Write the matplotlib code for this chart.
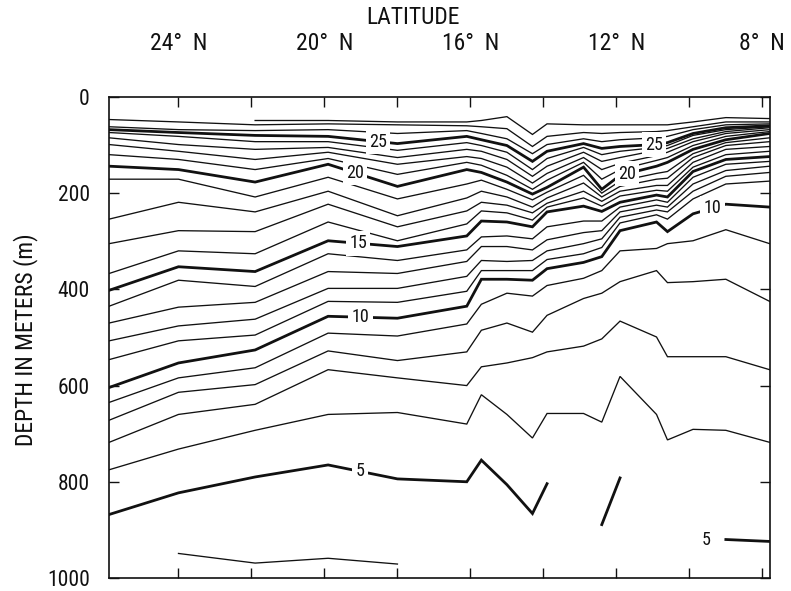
import numpy as np
import matplotlib
matplotlib.use('Agg')
import matplotlib.pyplot as plt
from matplotlib import font_manager

nan = np.nan

# station latitudes (deg N)
stations = [25.9, 24.0, 21.9, 19.9, 18.0, 16.1, 15.7, 15.0, 14.3, 13.9,
            12.9, 12.4, 11.9, 10.9, 10.6, 9.9, 9.0, 7.8]

# isotherm depths (m) at each station
t28 = [nan, nan, 49, 49, 52, 52, 49, 41, 78, 56, 58, 58, 58, 58, 58, 52, 43, 45]
t27 = [47, 52, 58, 56, 58, 60, 62, 66, 103, 82, 74, 76, 74, 72, 70, 62, 52, 52]
t26 = [62, 68, 70, 68, 76, 70, 76, 87, 118, 99, 87, 93, 89, 85, 82, 68, 58, 56]
t25 = [68, 74, 80, 82, 97, 82, 89, 101, 134, 113, 97, 107, 103, 99, 95, 76, 64, 60]
t24 = [74, 82, 93, 93, 111, 95, 101, 115, 151, 128, 105, 120, 113, 105, 101, 80, 68, 62]
t23 = [85, 99, 109, 105, 126, 109, 113, 130, 165, 144, 115, 134, 126, 111, 107, 87, 72, 64]
t22 = [99, 113, 130, 115, 140, 124, 128, 146, 179, 159, 126, 151, 138, 122, 115, 93, 76, 68]
t21 = [120, 130, 151, 128, 161, 136, 142, 163, 192, 173, 136, 171, 151, 132, 126, 101, 82, 72]
t20 = [144, 151, 177, 140, 186, 151, 157, 177, 202, 188, 146, 192, 163, 144, 136, 109, 89, 76]
t19 = [171, 171, 208, 167, 212, 181, 173, 192, 214, 198, 163, 200, 175, 159, 155, 118, 95, 85]
t18 = [254, 219, 239, 196, 247, 210, 196, 208, 229, 210, 179, 208, 186, 171, 169, 126, 101, 93]
t17 = [305, 278, 280, 223, 270, 237, 219, 225, 241, 221, 196, 217, 196, 184, 184, 136, 109, 103]
t16 = [367, 320, 326, 260, 299, 264, 237, 241, 256, 229, 210, 227, 206, 194, 196, 146, 120, 113]
t15 = [402, 353, 363, 299, 311, 289, 258, 260, 270, 239, 227, 238, 219, 204, 208, 155, 130, 124]
t14 = [435, 381, 394, 326, 340, 318, 291, 289, 295, 270, 258, 258, 229, 214, 219, 167, 140, 134]
t13 = [470, 437, 427, 363, 367, 342, 311, 311, 318, 297, 282, 278, 239, 225, 229, 181, 153, 144]
t12 = [507, 476, 462, 398, 398, 373, 340, 342, 340, 320, 305, 295, 250, 235, 239, 196, 165, 157]
t11 = [546, 507, 495, 425, 427, 404, 361, 361, 361, 338, 326, 313, 262, 245, 254, 212, 181, 175]
t10 = [604, 553, 526, 456, 460, 435, 379, 379, 381, 357, 344, 332, 278, 260, 280, 243, 223, 229]
t9 = [635, 584, 563, 491, 497, 472, 431, 408, 414, 392, 377, 361, 320, 315, 305, 299, 276, 305]
t8 = [672, 614, 598, 528, 548, 530, 485, 470, 489, 454, 419, 408, 384, 361, 386, 384, 379, 425]
t7 = [718, 660, 639, 567, 584, 600, 561, 553, 542, 530, 518, 503, 466, 499, 540, 540, 540, 567]
t6 = [775, 732, 693, 660, 656, 680, 619, 660, 709, 658, 658, 676, 581, 660, 713, 691, 693, 718]
t5 = [868, 823, 790, 765, 794, 800, 755, 806, 866, 804, nan, 889, 792, nan, nan, nan, 920, 924]
t4 = [nan, 949, 969, 959, 971, nan, nan, nan, nan, nan, nan, nan, nan, nan, nan, nan, nan, nan]

isotherms = {28: t28, 27: t27, 26: t26, 25: t25, 24: t24, 23: t23, 22: t22,
             21: t21, 20: t20, 19: t19, 18: t18, 17: t17, 16: t16, 15: t15,
             14: t14, 13: t13, 12: t12, 11: t11, 10: t10, 9: t9, 8: t8,
             7: t7, 6: t6, 5: t5, 4: t4}
bold_temps = [5, 10, 15, 20, 25]

# inline contour labels: (isotherm, latitude)
label_temps = [25, 25, 20, 20, 15, 10, 10, 5]
label_lats = [18.53, 10.97, 19.16, 11.71, 19.08, 19.02, 9.37, 19.02]

xticks = [24, 22, 20, 18, 16, 14, 12, 10, 8]
xtick_labels = ['24°  N', '', '20°  N', '', '16°  N', '', '12°  N', '', '8°  N']
yticks = [0, 200, 400, 600, 800, 1000]
ytick_labels = ['0', '200', '400', '600', '800', '1000']

avail = {f.name for f in font_manager.fontManager.ttflist}
FONT = 'DejaVu Sans'
for cand in ['Liberation Sans Narrow', 'Roboto Condensed', 'Open Sans Condensed', 'Liberation Sans']:
    if cand in avail:
        FONT = cand
        break
plt.rcParams['font.family'] = [FONT, 'DejaVu Sans']

fig = plt.figure(figsize=(7.91, 5.91), dpi=100)
ax = fig.add_axes([0.138, 0.022, 0.835, 0.814])

ink = '#111111'
lat = np.array(stations)
for t, depths in isotherms.items():
    d = np.array(depths, dtype=float)
    lw = 2.0 if t in bold_temps else 0.95
    ax.plot(lat, d, color=ink, lw=lw, solid_joinstyle='miter', zorder=2)

for t, la in zip(label_temps, label_lats):
    d = np.array(isotherms[t], dtype=float)
    ok = ~np.isnan(d)
    x = lat[ok][::-1]
    y = d[ok][::-1]
    dep = np.interp(la, x, y)
    ax.text(la, dep, str(t), fontsize=13, ha='center', va='center', color=ink,
            bbox=dict(fc='white', ec='none', pad=2.5), zorder=3)

# the separate "5" label at the end of the deep segment on the right
d5 = np.array(t5, dtype=float)
ax.text(stations[16] + 0.55, d5[16], '5', fontsize=13, ha='center', va='center', color=ink)

ax.set_xlim(25.9, 7.8)
ax.set_ylim(1000, 0)

ax.set_xticks(xticks)
ax.set_xticklabels(xtick_labels)
ax.set_yticks(yticks)
ax.set_yticklabels(ytick_labels)

ax.tick_params(axis='x', which='both', direction='in', top=True, bottom=True,
               labeltop=True, labelbottom=False, length=7, width=1.0,
               pad=30, labelsize=17, colors=ink)
ax.tick_params(axis='y', which='both', direction='in', left=True, right=True,
               labelleft=True, labelright=False, length=7, width=1.0,
               pad=14, labelsize=15.5, colors=ink)
for s in ax.spines.values():
    s.set_linewidth(1.2)
    s.set_color(ink)

fig.text(0.522, 1 - 18 / 591, 'LATITUDE', ha='center', va='center', fontsize=17, color=ink)
fig.text(0.032, 0.425, 'DEPTH IN METERS (m)', ha='center', va='center',
         rotation=90, fontsize=17, color=ink)

fig.savefig('out.png', dpi=100)
